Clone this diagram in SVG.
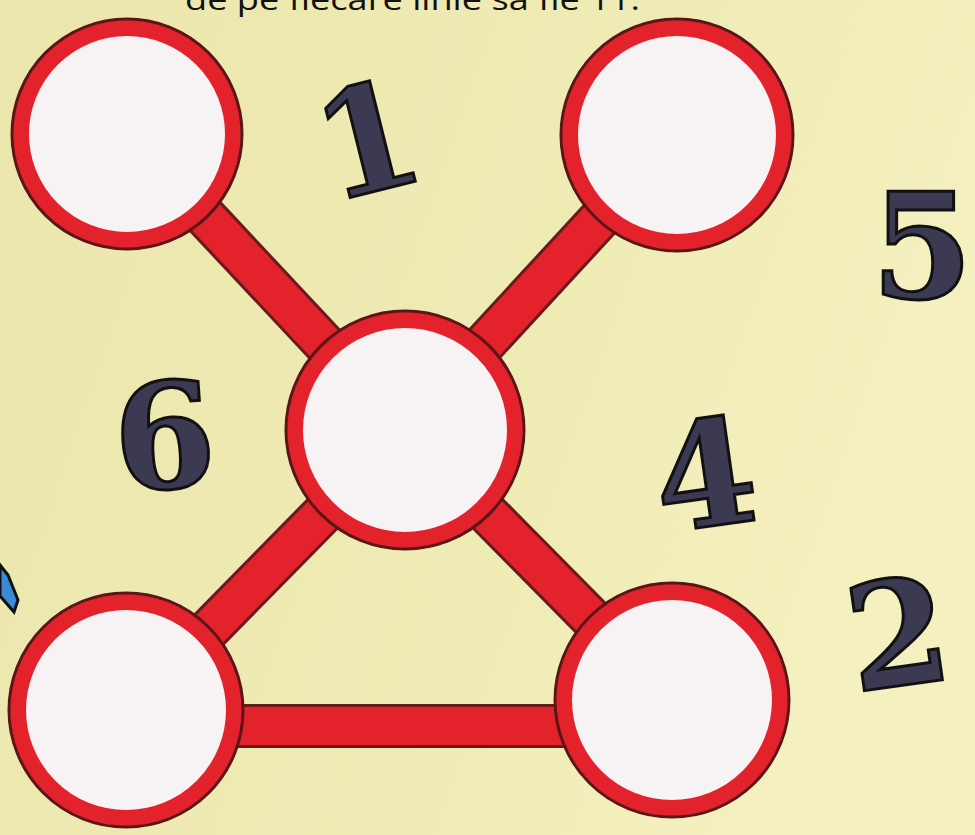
<svg xmlns="http://www.w3.org/2000/svg" width="975" height="835" viewBox="0 0 975 835">
<defs>
<linearGradient id="bg" x1="0" y1="0" x2="1" y2="0.3">
<stop offset="0" stop-color="#ebe6ad"/>
<stop offset="0.6" stop-color="#efebb4"/>
<stop offset="1" stop-color="#f5f0c0"/>
</linearGradient>
<style>
.ring{fill:#f7f3f5;stroke:#e3222c;stroke-width:16}
.rim{fill:none;stroke:#5c1416;stroke-width:3}
.edgeO{stroke:#6a1a1a;stroke-width:44;fill:none}
.edge{stroke:#e3222c;stroke-width:38;fill:none}
.num{font-family:"DejaVu Serif",serif;font-weight:bold;font-size:146px;fill:#3b3a52;stroke:#111;stroke-width:3;text-anchor:middle}
.top{font-family:"Open Sans","Liberation Sans",sans-serif;font-size:30px;fill:#111}
</style>
</defs>
<rect width="975" height="835" fill="url(#bg)"/>
<text class="top" x="185" y="10" textLength="455" lengthAdjust="spacingAndGlyphs">de pe fiecare linie să fie 11.</text>
<g id="pencil">
<path d="M0 565 L8 575 L18 600 L14 612 L0 596 Z" fill="#3a8ad8" stroke="#111" stroke-width="3"/>
</g>
<g id="connectors">
<line class="edgeO" x1="127" y1="133" x2="405" y2="430"/>
<line class="edgeO" x1="677" y1="135" x2="405" y2="430"/>
<line class="edgeO" x1="405" y1="430" x2="125" y2="715"/>
<line class="edgeO" x1="405" y1="430" x2="672" y2="700"/>
<line class="edgeO" x1="200" y1="726" x2="600" y2="726"/>
<line class="edge" x1="127" y1="133" x2="405" y2="430"/>
<line class="edge" x1="677" y1="135" x2="405" y2="430"/>
<line class="edge" x1="405" y1="430" x2="125" y2="715"/>
<line class="edge" x1="405" y1="430" x2="672" y2="700"/>
<line class="edge" x1="200" y1="726" x2="600" y2="726"/>
</g>
<g id="node-tl"><circle class="ring" cx="127" cy="134" r="106"/><circle class="rim" cx="127" cy="134" r="115"/></g>
<g id="node-tr"><circle class="ring" cx="677" cy="135" r="107"/><circle class="rim" cx="677" cy="135" r="116"/></g>
<g id="node-c"><circle class="ring" cx="405" cy="430" r="110"/><circle class="rim" cx="405" cy="430" r="119"/></g>
<g id="node-bl"><circle class="ring" cx="126" cy="710" r="108"/><circle class="rim" cx="126" cy="710" r="117"/></g>
<g id="node-br"><circle class="ring" cx="672" cy="700" r="108"/><circle class="rim" cx="672" cy="700" r="117"/></g>
<g id="numbers">
<text class="num" transform="translate(380 190) rotate(-14)">1</text>
<text class="num" transform="translate(922 298)">5</text>
<text class="num" transform="translate(168 488) rotate(-4)">6</text>
<text class="num" transform="translate(712 526) rotate(-8)">4</text>
<text class="num" transform="translate(905 685) rotate(-8)">2</text>
</g>
</svg>
